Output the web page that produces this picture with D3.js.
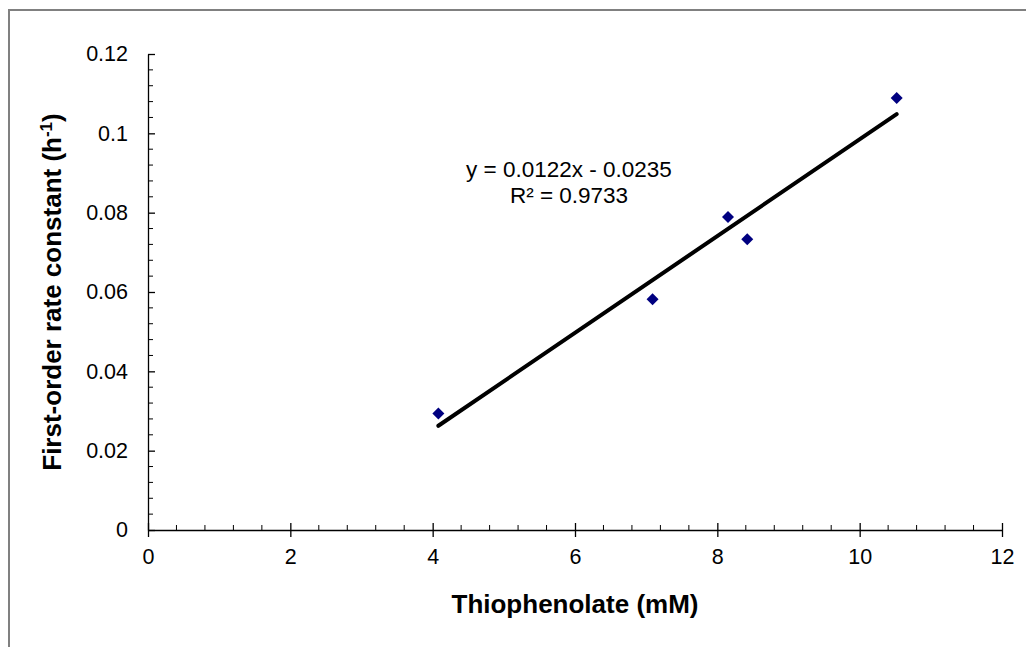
<!DOCTYPE html>
<html>
<head>
<meta charset="utf-8">
<script src="https://cdn.jsdelivr.net/npm/d3@7"></script>
<style>
  html, body { margin: 0; padding: 0; background: #fff; }
  svg { display: block; font-family: "Liberation Sans", Arial, sans-serif; }
</style>
</head>
<body>
<svg id="chart" width="1026" height="647"></svg>
<script>
// Data
const thiophenolate = [4.08, 7.09, 8.15, 8.42, 10.52];
const rateConstant  = [0.0294, 0.0582, 0.0789, 0.0733, 0.1089];
const xTicks = [0, 2, 4, 6, 8, 10, 12];
const yTicks = [0, 0.02, 0.04, 0.06, 0.08, 0.1, 0.12];
const xTickLabels = ["0", "2", "4", "6", "8", "10", "12"];
const yTickLabels = ["0", "0.02", "0.04", "0.06", "0.08", "0.1", "0.12"];
const trendSlope = 0.0122;
const trendIntercept = -0.0235;
const equationLines = ["y = 0.0122x - 0.0235", "R² = 0.9733"];

const svg = d3.select("#chart");

// outer frame
svg.append("rect").attr("x", 9).attr("y", 10).attr("width", 1030).attr("height", 660)
  .attr("fill", "none").attr("stroke", "#808080").attr("stroke-width", 2);

const x = d3.scaleLinear().domain([0, 12]).range([148, 1002]);
const y = d3.scaleLinear().domain([0, 0.12]).range([530, 54]);

// minor ticks
const xMinor = d3.range(0, 12.0001, 0.4).map(v => +v.toFixed(2)).filter(v => !xTicks.some(t => Math.abs(t - v) < 1e-6));
const yMinor = d3.range(0, 0.12001, 0.004).map(v => +v.toFixed(4)).filter(v => !yTicks.some(t => Math.abs(t - v) < 1e-9));

const g = svg.append("g");
g.selectAll(".xminor").data(xMinor).join("line")
  .attr("x1", d => x(d)).attr("x2", d => x(d)).attr("y1", 530).attr("y2", 525)
  .attr("stroke", "#000").attr("stroke-width", 1);
g.selectAll(".yminor").data(yMinor).join("line")
  .attr("x1", 148).attr("x2", 153).attr("y1", d => y(d)).attr("y2", d => y(d))
  .attr("stroke", "#000").attr("stroke-width", 1);

// x axis
const xAxis = d3.axisBottom(x).tickValues(xTicks).tickFormat((d, i) => xTickLabels[i])
  .tickSizeInner(7).tickSizeOuter(0).tickPadding(12);
const gx = svg.append("g").attr("transform", "translate(0,530)").call(xAxis);
gx.select(".domain").attr("stroke-width", 1.3);
gx.selectAll(".tick line").attr("y1", -7).attr("stroke-width", 1.3);
gx.selectAll("text").attr("font-size", 21.5).attr("fill", "#000")
  .attr("font-family", "'Liberation Sans', Arial, sans-serif");

// y axis
const yAxis = d3.axisLeft(y).tickValues(yTicks).tickFormat((d, i) => yTickLabels[i])
  .tickSizeInner(7).tickSizeOuter(0).tickPadding(13);
const gy = svg.append("g").attr("transform", "translate(148,0)").call(yAxis);
gy.select(".domain").attr("stroke-width", 1.3);
gy.selectAll(".tick line").attr("x2", 7).attr("stroke-width", 1.3);
gy.selectAll("text").attr("font-size", 21.5).attr("fill", "#000")
  .attr("font-family", "'Liberation Sans', Arial, sans-serif");

// trend line
const xmin = d3.min(thiophenolate), xmax = d3.max(thiophenolate);
svg.append("line")
  .attr("x1", x(xmin)).attr("y1", y(trendSlope * xmin + trendIntercept))
  .attr("x2", x(xmax)).attr("y2", y(trendSlope * xmax + trendIntercept))
  .attr("stroke", "#000").attr("stroke-width", 4).attr("stroke-linecap", "round");

// points
const pts = thiophenolate.map((v, i) => ({ x: v, y: rateConstant[i] }));
svg.selectAll(".pt").data(pts).join("path")
  .attr("d", "M0,-6L6,0L0,6L-6,0Z")
  .attr("transform", d => `translate(${x(d.x)},${y(d.y)})`)
  .attr("fill", "#000080");

// equation label
svg.selectAll(".eq").data(equationLines).join("text")
  .attr("x", 569).attr("y", (d, i) => 177 + i * 25.5)
  .attr("text-anchor", "middle").attr("font-size", 22.5).attr("fill", "#000")
  .text(d => d);

// axis titles
svg.append("text").attr("x", 575).attr("y", 613).attr("text-anchor", "middle")
  .attr("font-size", 26).attr("font-weight", "bold").text("Thiophenolate (mM)");

const yt = svg.append("text").attr("transform", "translate(61,292) rotate(-90)")
  .attr("text-anchor", "middle").attr("font-size", 26).attr("font-weight", "bold");
yt.append("tspan").text("First-order rate constant (h");
yt.append("tspan").attr("dy", -9).attr("font-size", 17).text("-1");
yt.append("tspan").attr("dy", 9).text(")");
</script>
</body>
</html>
